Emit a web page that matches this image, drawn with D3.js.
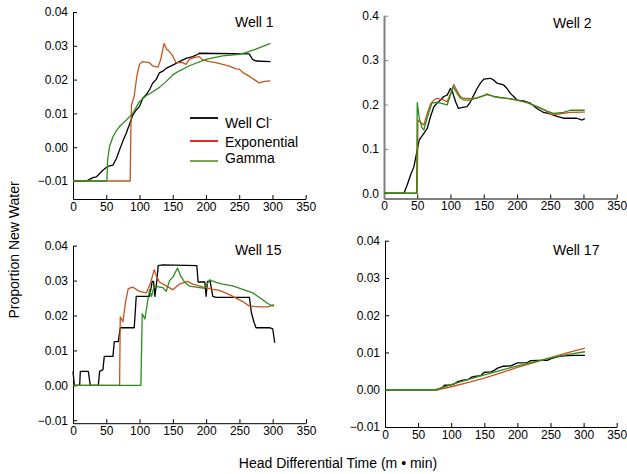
<!DOCTYPE html>
<html>
<head>
<meta charset="utf-8">
<script src="https://cdn.jsdelivr.net/npm/d3@7"></script>
<style>
  body { margin: 0; background: #fff; }
  svg text { font-family: "Liberation Sans", Arial, sans-serif; fill: #000; }
</style>
</head>
<body>
<div id="chart"></div>
<script>
// ========== Data (time in m·min, proportion new water) ==========
const xTicks = [0, 50, 100, 150, 200, 250, 300, 350];
const smallTicks = [-0.01, 0.00, 0.01, 0.02, 0.03, 0.04];
const well2Ticks = [0.0, 0.1, 0.2, 0.3, 0.4];
const wellNames = ["Well 1", "Well 2", "Well 15", "Well 17"];
const seriesNames = ["Well Cl", "Exponential", "Gamma"];

const well1Cl = [[0,-0.01],[20,-0.01],[25,-0.0095],[30,-0.009],[35,-0.0088],[40,-0.0078],[45,-0.0068],[50,-0.006],[55,-0.0055],[60,-0.0053],[65,-0.0035],[70,-0.0008],[75,0.0018],[80,0.0041],[85,0.0068],[90,0.0095],[95,0.011],[100,0.012],[105,0.0145],[110,0.0155],[115,0.017],[120,0.019],[125,0.020],[130,0.022],[135,0.0225],[140,0.0233],[150,0.0243],[160,0.0253],[170,0.0263],[180,0.0268],[188,0.0275],[190,0.0278],[265,0.0276],[270,0.026],[275,0.0255],[297,0.0253]];
const well1Exp = [[0,-0.01],[86,-0.01],[87,0.005],[88,0.0125],[92,0.015],[96,0.021],[100,0.0245],[104,0.0253],[115,0.025],[120,0.024],[128,0.0237],[132,0.026],[137,0.0307],[141,0.029],[145,0.0283],[150,0.027],[155,0.025],[165,0.025],[170,0.0245],[175,0.026],[182,0.0265],[190,0.0268],[195,0.0258],[205,0.0253],[215,0.025],[225,0.0245],[235,0.024],[245,0.0232],[250,0.0231],[256,0.022],[262,0.0214],[270,0.0203],[275,0.0197],[280,0.019],[288,0.0195],[297,0.0196]];
const well1Gamma = [[0,-0.01],[51,-0.01],[52,-0.0038],[55,0.0002],[60,0.0031],[65,0.0048],[70,0.0061],[80,0.008],[90,0.010],[95,0.0118],[100,0.0135],[110,0.0152],[120,0.0164],[130,0.0177],[140,0.0194],[150,0.0214],[160,0.0226],[175,0.0241],[200,0.026],[225,0.027],[250,0.0275],[260,0.028],[275,0.029],[297,0.0307]];

const well2Cl = [[0,0],[30,0],[35,0.019],[40,0.041],[45,0.06],[50,0.098],[53,0.12],[60,0.135],[65,0.146],[70,0.173],[75,0.195],[80,0.203],[85,0.21],[90,0.218],[95,0.221],[100,0.236],[103,0.228],[108,0.205],[112,0.191],[120,0.194],[125,0.195],[130,0.206],[135,0.221],[140,0.236],[145,0.248],[150,0.257],[160,0.259],[165,0.255],[170,0.248],[180,0.244],[185,0.236],[190,0.225],[195,0.218],[200,0.21],[210,0.208],[220,0.203],[230,0.191],[240,0.182],[250,0.179],[260,0.173],[270,0.169],[290,0.169],[298,0.165],[302,0.168]];
const well2Exp = [[0,0],[50,0],[51,0.165],[55,0.16],[60,0.154],[65,0.18],[70,0.201],[75,0.21],[80,0.214],[85,0.212],[90,0.21],[95,0.206],[100,0.225],[105,0.245],[110,0.23],[115,0.218],[120,0.214],[130,0.213],[140,0.215],[150,0.22],[155,0.224],[165,0.218],[175,0.215],[190,0.213],[205,0.208],[215,0.204],[230,0.195],[245,0.185],[250,0.178],[260,0.178],[270,0.18],[280,0.182],[302,0.183]];
const well2Gamma = [[0,0],[49,0],[50,0.204],[53,0.17],[57,0.148],[60,0.143],[65,0.17],[72,0.203],[80,0.205],[88,0.202],[95,0.199],[100,0.222],[104,0.24],[110,0.225],[115,0.214],[120,0.21],[130,0.21],[140,0.215],[155,0.222],[165,0.218],[180,0.215],[200,0.21],[215,0.205],[230,0.195],[245,0.185],[255,0.18],[270,0.182],[280,0.187],[302,0.187]];

const well15Cl = [[0,0.004],[2,0],[10,0],[11,0.004],[23,0.004],[26,0],[38,0],[40,0.004],[45,0.0045],[47,0.0083],[60,0.0083],[62,0.0125],[68,0.0125],[71,0.0165],[92,0.0165],[95,0.0255],[115,0.0255],[119,0.0298],[121,0.0298],[123,0.0255],[126,0.03],[128,0.0343],[135,0.0345],[186,0.0343],[188,0.0296],[198,0.0296],[200,0.0255],[202,0.0298],[206,0.0298],[210,0.0255],[215,0.0252],[265,0.0252],[268,0.0208],[272,0.018],[275,0.0165],[295,0.0165],[300,0.0162],[303,0.0122]];
const well15Exp = [[0,0],[70,0],[71,0.0196],[75,0.0182],[79,0.024],[83,0.0277],[90,0.0281],[95,0.0275],[100,0.0269],[110,0.0265],[116,0.029],[122,0.0331],[126,0.031],[130,0.0296],[140,0.0285],[150,0.0274],[160,0.029],[172,0.0298],[180,0.029],[195,0.0282],[210,0.0275],[220,0.0272],[235,0.026],[245,0.025],[255,0.024],[265,0.0227],[280,0.0225],[293,0.0225],[302,0.0231]];
const well15Gamma = [[0,0],[102,0],[104,0.0205],[108,0.019],[112,0.024],[115,0.0274],[118,0.0255],[122,0.0284],[135,0.028],[140,0.0269],[145,0.03],[150,0.031],[157,0.0336],[162,0.0312],[168,0.0295],[175,0.0284],[190,0.028],[198,0.0278],[205,0.0302],[215,0.0295],[225,0.029],[240,0.0285],[255,0.0275],[270,0.0265],[285,0.0245],[292,0.0235],[300,0.0227],[302,0.023]];

const well17Cl = [[0,0],[80,0],[88,0.0008],[90,0.0012],[100,0.0013],[105,0.0016],[110,0.0022],[118,0.0026],[125,0.0027],[130,0.0033],[135,0.0036],[145,0.0038],[150,0.0047],[160,0.0048],[165,0.0052],[170,0.0058],[178,0.0063],[190,0.0064],[195,0.0068],[200,0.0072],[215,0.0073],[220,0.0078],[230,0.0079],[245,0.0079],[250,0.0083],[260,0.0088],[270,0.0091],[285,0.0092],[302,0.0092]];
const well17Exp = [[0,0],[78,0],[90,0.0004],[100,0.0008],[125,0.0019],[150,0.0031],[175,0.0045],[200,0.006],[225,0.0073],[250,0.0086],[275,0.0099],[302,0.0112]];
const well17Gamma = [[0,0],[76,0],[90,0.0008],[100,0.0014],[125,0.0027],[150,0.004],[175,0.0052],[200,0.0064],[225,0.0075],[250,0.0085],[275,0.0094],[302,0.0102]];

// ========== Layout ==========
const width = 627;
const height = 474;
const lineColors = ["#000000", "#c4551f", "#2e8b1e"];
const legendColors = ["#000000", "#e01010", "#6e9e3a"];

const panels = [
  { name: wellNames[0], series: [well1Cl, well1Exp, well1Gamma], left: 73, right: 305.7, top: 12, bottom: 199,
    yDomain: [-0.01533, 0.04], yTicks: smallTicks, fmt: ".2f", axisColor: "#000", axisWidth: 1, titleX: 235, titleY: 27 },
  { name: wellNames[1], series: [well2Cl, well2Exp, well2Gamma], left: 384, right: 616.7, top: 15.7, bottom: 198.5,
    yDomain: [-0.0118, 0.4], yTicks: well2Ticks, fmt: ".1f", axisColor: "#808080", axisWidth: 2, titleX: 553, titleY: 28 },
  { name: wellNames[2], series: [well15Cl, well15Exp, well15Gamma], left: 73, right: 306, top: 245.7, bottom: 423.2,
    yDomain: [-0.01085, 0.04], yTicks: smallTicks, fmt: ".2f", axisColor: "#000", axisWidth: 1, titleX: 235, titleY: 255 },
  { name: wellNames[3], series: [well17Cl, well17Exp, well17Gamma], left: 385, right: 616.7, top: 240.7, bottom: 427,
    yDomain: [-0.01, 0.04], yTicks: smallTicks, fmt: ".2f", axisColor: "#000", axisWidth: 1, titleX: 553, titleY: 255 },
];

const svg = d3.select("#chart").append("svg")
  .attr("width", width)
  .attr("height", height);

// ========== Panels ==========
panels.forEach((p) => {
  const x = d3.scaleLinear().domain([0, 350]).range([p.left, p.right]);
  const y = d3.scaleLinear().domain(p.yDomain).range([p.bottom, p.top]);

  const gx = svg.append("g")
    .attr("transform", `translate(0,${p.bottom})`)
    .call(d3.axisBottom(x).tickValues(xTicks).tickSizeInner(-4).tickSizeOuter(0).tickPadding(3).tickFormat(d3.format("d")));
  gx.selectAll("text").attr("font-size", 12).attr("font-family", null);
  gx.select(".domain").attr("stroke", "#000");

  const gy = svg.append("g")
    .attr("transform", `translate(${p.left},0)`)
    .call(d3.axisLeft(y).tickValues(p.yTicks).tickSizeInner(-4).tickSizeOuter(0).tickPadding(5).tickFormat(d3.format(p.fmt)));
  gy.selectAll("text").attr("font-size", 12).attr("font-family", null);
  gy.select(".domain").attr("stroke", p.axisColor).attr("stroke-width", p.axisWidth);
  gy.selectAll(".tick line").attr("stroke", p.axisColor);

  const line = d3.line()
    .x((d) => x(d[0]))
    .y((d) => y(d[1]));

  p.series.forEach((s, i) => {
    svg.append("path")
      .datum(s)
      .attr("fill", "none")
      .attr("stroke", lineColors[i])
      .attr("stroke-width", 1.3)
      .attr("stroke-linejoin", "round")
      .attr("d", line);
  });

  svg.append("text")
    .attr("x", p.titleX)
    .attr("y", p.titleY)
    .attr("font-size", 14)
    .text(p.name);
});

// ========== Legend (Well 1 panel) ==========
const legendY = [118, 141, 161];
const legendTextY = [128, 146.5, 163];
seriesNames.forEach((name, i) => {
  svg.append("line")
    .attr("x1", 190).attr("x2", 218)
    .attr("y1", legendY[i]).attr("y2", legendY[i])
    .attr("stroke", legendColors[i])
    .attr("stroke-width", 1.8);
  const t = svg.append("text")
    .attr("x", 225)
    .attr("y", legendTextY[i])
    .attr("font-size", 14)
    .text(name);
  if (i === 0) {
    t.append("tspan").attr("font-size", 9).attr("dy", -6).text("-");
  }
});

// ========== Axis labels ==========
svg.append("text")
  .attr("transform", "translate(19,250) rotate(-90)")
  .attr("text-anchor", "middle")
  .attr("font-size", 14)
  .text("Proportion New Water");

svg.append("text")
  .attr("x", 338)
  .attr("y", 468)
  .attr("text-anchor", "middle")
  .attr("font-size", 14)
  .text("Head Differential Time (m \u2022 min)");
</script>
</body>
</html>
